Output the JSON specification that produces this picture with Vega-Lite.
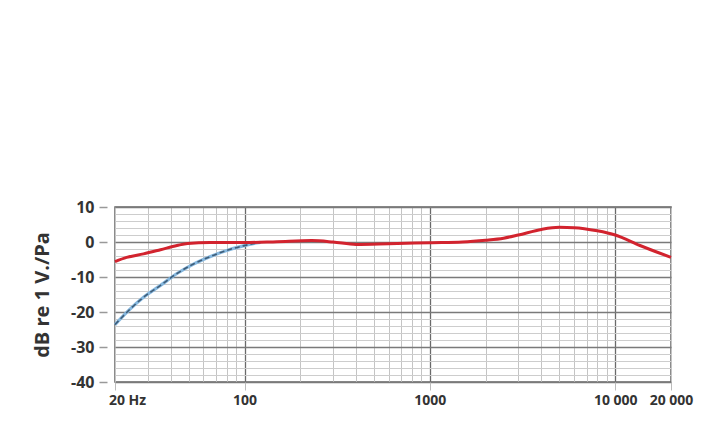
{
  "$schema": "https://vega.github.io/schema/vega-lite/v6.json",
  "autosize": "none",
  "width": 556,
  "height": 175,
  "padding": {"left": 115, "top": 207, "right": 45, "bottom": 59},
  "background": "white",
  "config": {
    "view": {"stroke": "#666", "strokeWidth": 1.5},
    "font": "Open Sans"
  },
  "datasets": {
    "red": [
      {"f": 20, "db": -5.6}, {"f": 23.1, "db": -4.4}, {"f": 28.5, "db": -3.4}, {"f": 35.2, "db": -2.2},
      {"f": 43.2, "db": -1.0}, {"f": 49.3, "db": -0.4}, {"f": 65, "db": -0.15}, {"f": 100, "db": -0.15},
      {"f": 150, "db": 0.1}, {"f": 230, "db": 0.4}, {"f": 300, "db": 0.0},
      {"f": 400, "db": -0.7}, {"f": 600, "db": -0.5}, {"f": 1000, "db": -0.2}, {"f": 1500, "db": 0.0},
      {"f": 2000, "db": 0.5}, {"f": 2500, "db": 1.1}, {"f": 3000, "db": 2.0}, {"f": 4000, "db": 3.6},
      {"f": 5000, "db": 4.2}, {"f": 6000, "db": 4.1}, {"f": 8000, "db": 3.2}, {"f": 10000, "db": 2.0},
      {"f": 13600, "db": -1.0}, {"f": 20000, "db": -4.4}
    ],
    "blue": [
      {"f": 20, "db": -23.6}, {"f": 24.1, "db": -19.2}, {"f": 28.5, "db": -15.8}, {"f": 35.2, "db": -12.4},
      {"f": 43.2, "db": -9.0}, {"f": 53, "db": -6.3}, {"f": 65, "db": -4.2}, {"f": 80.2, "db": -2.4},
      {"f": 98.4, "db": -1.1}, {"f": 116, "db": -0.3}, {"f": 122, "db": -0.1}
    ]
  },
  "encoding": {
    "x": {
      "field": "f", "type": "quantitative",
      "scale": {"type": "log", "domain": [20, 20000], "nice": false},
      "axis": {
        "title": null,
        "values": [20, 30, 40, 50, 60, 70, 80, 90, 100, 200, 300, 400, 500, 600, 700, 800, 900, 1000, 2000, 3000, 4000, 5000, 6000, 7000, 8000, 9000, 10000, 20000],
        "labelExpr": "datum.value == 20 ? '20 Hz' : datum.value == 100 ? '100' : datum.value == 1000 ? '1000' : datum.value == 10000 ? '10 000' : datum.value == 20000 ? '20 000' : ''",
        "labelFlush": false,
        "labelOverlap": false,
        "labelBound": false,
        "labelFont": "Open Sans",
        "labelFontWeight": "bold",
        "labelFontSize": 14,
        "labelColor": "#333",
        "labelPadding": 3,
        "labelOffset": {"condition": {"test": "datum.value == 20", "value": 12}, "value": 0},
        "domain": false,
        "tickSize": 8,
        "tickColor": "#bbb",
        "tickOpacity": {"condition": {"test": "datum.value == 20 || datum.value == 100 || datum.value == 1000 || datum.value == 10000 || datum.value == 20000", "value": 1}, "value": 0},
        "grid": true,
        "gridColor": {"condition": {"test": "datum.value == 100 || datum.value == 1000 || datum.value == 10000", "value": "#6a6a6a"}, "value": "#c4c4c4"},
        "gridWidth": {"condition": {"test": "datum.value == 100 || datum.value == 1000 || datum.value == 10000", "value": 1.3}, "value": 1},
        "gridOpacity": 1
      }
    },
    "y": {
      "field": "db", "type": "quantitative",
      "scale": {"domain": [-40, 10], "nice": false, "zero": false},
      "axis": {
        "title": "dB re 1 V./Pa",
        "titleFont": "Open Sans",
        "titleFontWeight": "bold",
        "titleFontSize": 20,
        "titleColor": "#333",
        "titlePadding": 18,
        "offset": 8,
        "values": [-40, -38, -36, -34, -32, -30, -28, -26, -24, -22, -20, -18, -16, -14, -12, -10, -8, -6, -4, -2, 0, 2, 4, 6, 8, 10],
        "labelExpr": "datum.value % 10 == 0 ? (datum.value < 0 ? '-' + abs(datum.value) : '' + datum.value) : ''",
        "labelFont": "Open Sans",
        "labelFontWeight": "bold",
        "labelFontSize": 16,
        "labelColor": "#333",
        "labelPadding": 5,
        "labelOverlap": false,
        "labelFlush": false,
        "domain": false,
        "tickSize": 8,
        "tickWidth": 1.5,
        "tickColor": "#999",
        "tickOpacity": {"condition": {"test": "datum.value % 10 == 0", "value": 1}, "value": 0},
        "grid": true,
        "gridColor": {"condition": {"test": "datum.value % 10 == 0", "value": "#7a7a7a"}, "value": "#cdcdcd"},
        "gridWidth": {"condition": {"test": "datum.value % 10 == 0", "value": 1.3}, "value": 1},
        "gridOpacity": 1
      }
    }
  },
  "layer": [
    {
      "data": {"name": "blue"},
      "mark": {"type": "line", "interpolate": "monotone", "color": "#86b8df", "strokeWidth": 3.2}
    },
    {
      "data": {"name": "blue"},
      "mark": {"type": "line", "interpolate": "monotone", "color": "#3f5d78", "strokeWidth": 1.6, "strokeDash": [5, 3]}
    },
    {
      "data": {"name": "red"},
      "mark": {"type": "line", "interpolate": "monotone", "color": "#d2232e", "strokeWidth": 3}
    }
  ]
}
